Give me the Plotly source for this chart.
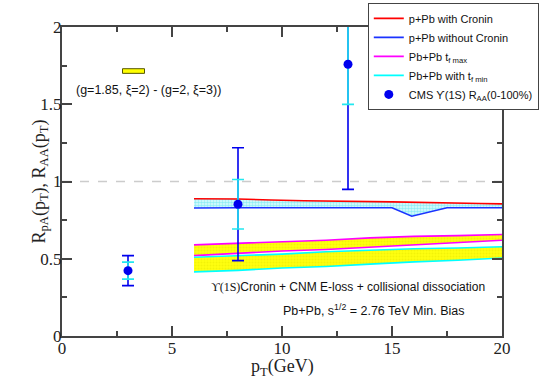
import plotly.graph_objects as go

# p+Pb curves
x_red = [6, 8, 9.5, 11, 15, 17, 19, 20]
y_red = [0.888, 0.887, 0.88, 0.875, 0.868, 0.865, 0.858, 0.855]
x_blue = [6, 8, 15, 15.9, 17.5, 20]
y_blue = [0.828, 0.83, 0.83, 0.775, 0.83, 0.83]

# Pb+Pb bands
x_band = [6, 8, 10, 12, 14, 16, 18, 20]
tfmax_hi = [0.59, 0.60, 0.61, 0.62, 0.635, 0.645, 0.65, 0.657]
tfmax_lo = [0.52, 0.535, 0.55, 0.56, 0.575, 0.59, 0.605, 0.62]
tfmin_hi = [0.51, 0.52, 0.53, 0.545, 0.555, 0.565, 0.57, 0.578]
tfmin_lo = [0.415, 0.425, 0.44, 0.45, 0.465, 0.48, 0.49, 0.505]

# CMS data
cms_x = [3, 8, 13]
cms_y = [0.423, 0.853, 1.759]
cms_err_tot = [0.097, 0.365, 0.81]
cms_err_sys = [0.055, 0.16, 0.26]

x_ticks = [0, 5, 10, 15, 20]
y_ticks = [0, 0.5, 1, 1.5, 2]

fig = go.Figure()

# filled bands
fig.add_trace(go.Scatter(x=x_blue, y=y_blue, mode="lines", line=dict(width=0),
                         showlegend=False, hoverinfo="skip"))
fig.add_trace(go.Scatter(x=x_red, y=y_red, mode="lines", line=dict(width=0),
                         fill="tonexty", fillcolor="rgba(0,0,0,0)",
                         fillpattern=dict(shape=".", fgcolor="#3fe0ec", bgcolor="#e2fbfd",
                                          size=3, solidity=0.55),
                         showlegend=False, hoverinfo="skip"))
fig.add_trace(go.Scatter(x=x_band, y=tfmax_lo, mode="lines", line=dict(width=0),
                         showlegend=False, hoverinfo="skip"))
fig.add_trace(go.Scatter(x=x_band, y=tfmax_hi, mode="lines", line=dict(width=0),
                         fill="tonexty", fillcolor="#ffff00",
                         fillpattern=dict(shape=".", fgcolor="#e8e800", bgcolor="#ffff10",
                                          size=3, solidity=0.4),
                         showlegend=False, hoverinfo="skip"))
fig.add_trace(go.Scatter(x=x_band, y=tfmin_lo, mode="lines", line=dict(width=0),
                         showlegend=False, hoverinfo="skip"))
fig.add_trace(go.Scatter(x=x_band, y=tfmin_hi, mode="lines", line=dict(width=0),
                         fill="tonexty", fillcolor="#ffff00",
                         fillpattern=dict(shape=".", fgcolor="#e8e800", bgcolor="#ffff10",
                                          size=3, solidity=0.4),
                         showlegend=False, hoverinfo="skip"))

# lines
fig.add_trace(go.Scatter(x=x_red, y=y_red, mode="lines", line=dict(color="#ff0000", width=1.6),
                         name="p+Pb with Cronin", legendrank=1))
fig.add_trace(go.Scatter(x=x_blue, y=y_blue, mode="lines", line=dict(color="#1a33ff", width=1.6),
                         name="p+Pb without Cronin", legendrank=2))
fig.add_trace(go.Scatter(x=x_band, y=tfmax_hi, mode="lines", line=dict(color="#ff00ff", width=1.6),
                         name="Pb+Pb t<sub>f max</sub>", legendrank=3))
fig.add_trace(go.Scatter(x=x_band, y=tfmax_lo, mode="lines", line=dict(color="#ff00ff", width=1.6),
                         showlegend=False))
fig.add_trace(go.Scatter(x=x_band, y=tfmin_hi, mode="lines", line=dict(color="#00ffff", width=1.6),
                         name="Pb+Pb with t<sub>f min</sub>", legendrank=4))
fig.add_trace(go.Scatter(x=x_band, y=tfmin_lo, mode="lines", line=dict(color="#00ffff", width=1.6),
                         showlegend=False))

# CMS error bars and points
fig.add_trace(go.Scatter(x=cms_x, y=cms_y, mode="markers", marker=dict(size=1, color="rgba(0,0,0,0)"),
                         error_y=dict(type="data", array=cms_err_tot, color="#0000ee",
                                      thickness=1.6, width=6),
                         showlegend=False, hoverinfo="skip"))
fig.add_trace(go.Scatter(x=cms_x, y=cms_y, mode="markers", marker=dict(size=1, color="rgba(0,0,0,0)"),
                         error_y=dict(type="data", array=cms_err_sys, color="#22e8f0",
                                      thickness=1.6, width=6),
                         showlegend=False, hoverinfo="skip"))
fig.add_trace(go.Scatter(x=cms_x, y=cms_y, mode="markers", marker=dict(size=9, color="#0000ee"),
                         name="CMS \u03d2(1S) R<sub>AA</sub>(0-100%)", legendrank=5))

axis_common = dict(
    showline=True, linecolor="#444444", linewidth=2, mirror="ticks",
    ticks="inside", ticklen=10, tickwidth=1.5, tickcolor="#444444",
    showgrid=False, zeroline=False, automargin=False,
    tickfont=dict(family="Liberation Serif", size=17, color="#222222"),
)

title_font = dict(family="Liberation Serif", size=18, color="#222222")
sans = dict(family="Liberation Sans", color="#111111")

fig.update_layout(
    width=542, height=378,
    margin=dict(l=62, r=40, t=27, b=42, autoexpand=False),
    paper_bgcolor="white", plot_bgcolor="white",
    xaxis=dict(range=[0, 20], tickvals=x_ticks, ticktext=[str(v) for v in x_ticks],
               minor=dict(ticks="inside", ticklen=5, dtick=2.5, tickcolor="#444444", tickwidth=1.5),
               ticklabelstandoff=-4,
               **axis_common),
    yaxis=dict(range=[0, 2], tickvals=y_ticks, ticktext=["0", "0.5", "1", "1.5", "2"],
               minor=dict(ticks="inside", ticklen=5, dtick=0.25, tickcolor="#444444", tickwidth=1.5),
               ticklabelstandoff=-5,
               **axis_common),
    legend=dict(x=0.695, y=1.078, xanchor="left", yanchor="top", traceorder="normal",
                bgcolor="white", bordercolor="#444444", borderwidth=1,
                font=dict(size=11, **sans),
                tracegroupgap=0, itemwidth=30),
    shapes=[
        dict(type="line", xref="x", yref="y", x0=0, x1=20, y0=1, y1=1,
             line=dict(color="#cccccc", width=1.5, dash="dash"), layer="below"),
        dict(type="rect", xref="x", yref="y", x0=2.75, x1=3.75, y0=1.70, y1=1.73,
             fillcolor="#ffff00", line=dict(color="#555500", width=1)),
    ],
    annotations=[
        dict(x=0.5, y=-0.101, xref="paper", yref="paper", showarrow=False,
             xanchor="center", yanchor="middle",
             text="p<sub>T</sub>(GeV)", font=title_font),
        dict(x=-0.05, y=0.5, xref="paper", yref="paper", showarrow=False,
             xanchor="center", yanchor="middle", textangle=-90,
             text="R<sub>pA</sub>(p<sub>T</sub>), R<sub>AA</sub>(p<sub>T</sub>)", font=title_font),
        dict(x=3.93, y=1.59, xref="x", yref="y", showarrow=False,
             text="(g=1.85, \u03be=2) - (g=2, \u03be=3))",
             font=dict(size=12.5, **sans)),
        dict(x=19.3, y=0.317, xref="x", yref="y", showarrow=False, xanchor="right",
             text="<span style='font-family:Liberation Serif'>\u03d2(1S)</span>Cronin + CNM E-loss + collisional dissociation",
             font=dict(size=12, **sans)),
        dict(x=18.4, y=0.168, xref="x", yref="y", showarrow=False, xanchor="right",
             text="Pb+Pb, s<sup>1/2</sup> = 2.76 TeV Min. Bias",
             font=dict(size=12.5, **sans)),
    ],
)

fig.write_html("out.html", post_script="document.body.style.margin='0';",
               config={"displayModeBar": False})
